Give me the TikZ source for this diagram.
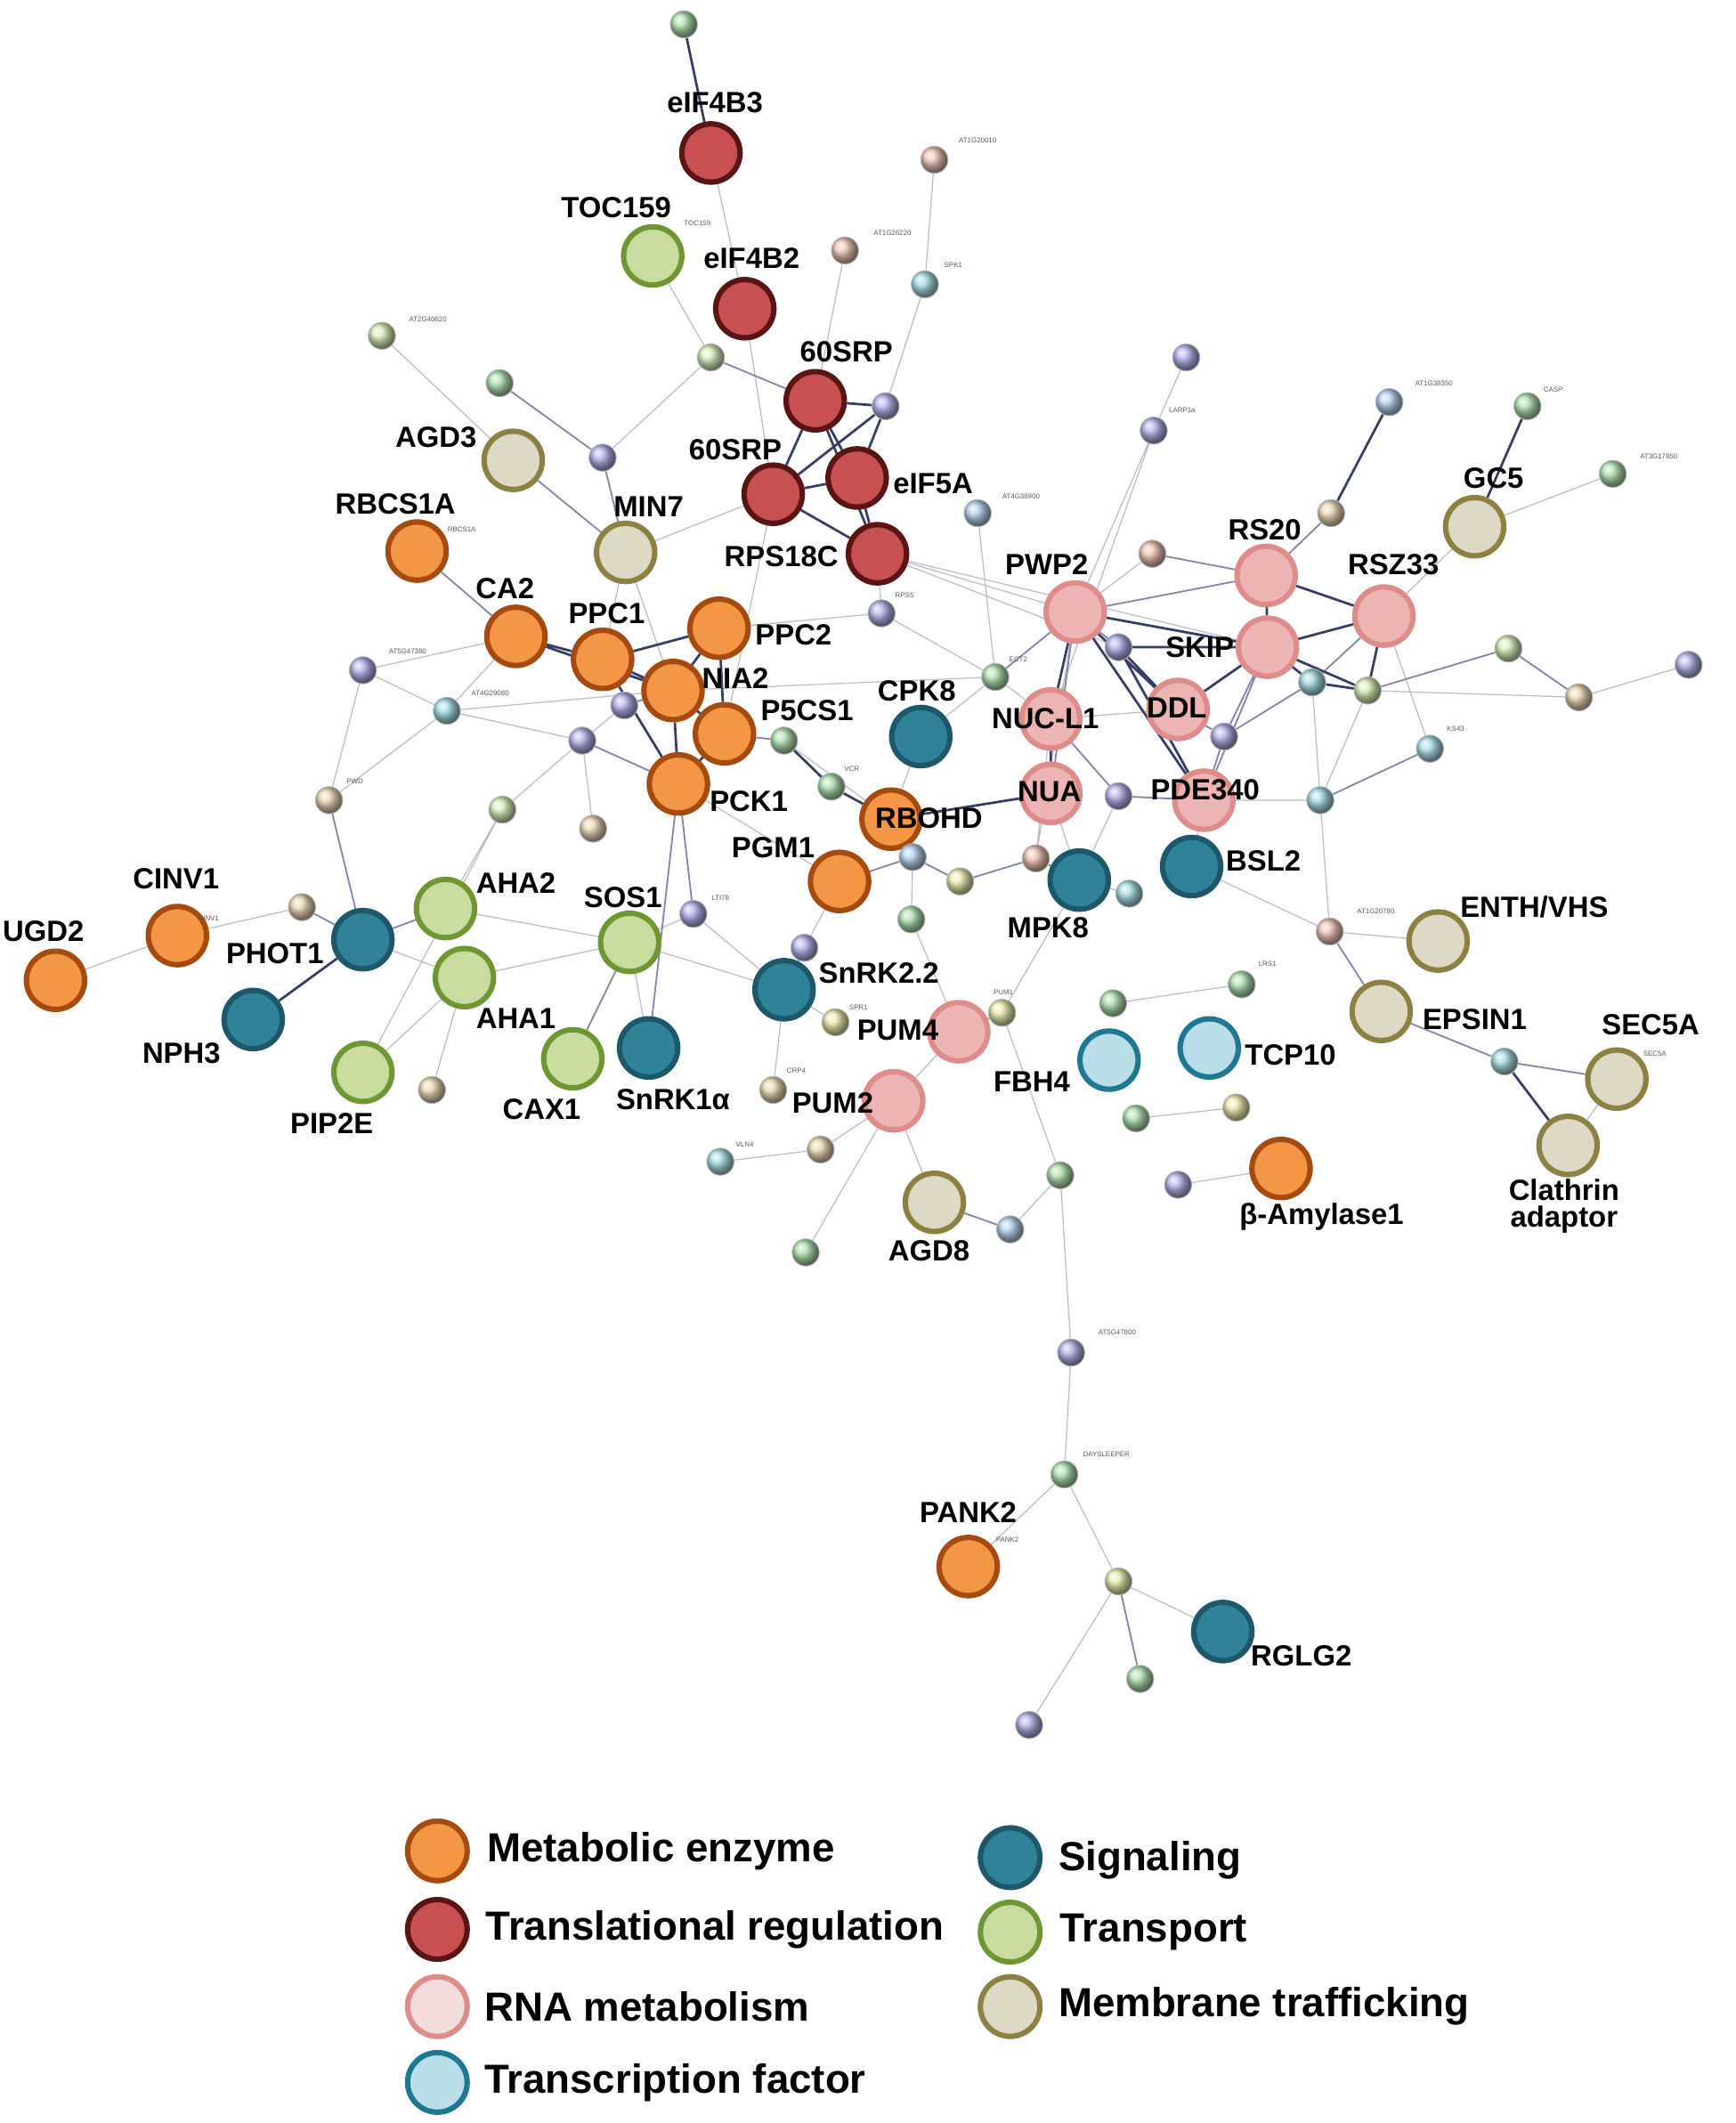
\documentclass[tikz,border=0pt]{standalone}
\usepackage{fontspec}
\setmainfont{Liberation Sans}
\usepackage{tikz}
\usetikzlibrary{backgrounds}

\definecolor{metF}{RGB}{245,150,70}   \definecolor{metD}{RGB}{165,75,15}
\definecolor{trF}{RGB}{200,80,80}     \definecolor{trD}{RGB}{90,20,20}
\definecolor{rnF}{RGB}{236,180,178}   \definecolor{rnD}{RGB}{222,140,138}
\definecolor{rnL}{RGB}{242,220,220}
\definecolor{tfF}{RGB}{185,222,232}   \definecolor{tfD}{RGB}{30,120,145}
\definecolor{sgF}{RGB}{48,130,152}    \definecolor{sgD}{RGB}{28,88,105}
\definecolor{tpF}{RGB}{200,220,160}   \definecolor{tpD}{RGB}{110,150,50}
\definecolor{mbF}{RGB}{222,217,196}   \definecolor{mbD}{RGB}{140,128,66}
\definecolor{edgeL}{RGB}{185,188,200} \definecolor{edgeM}{RGB}{130,135,165}
\definecolor{edgeD}{RGB}{55,62,100}
\definecolor{bGrn}{RGB}{175,225,175}  \definecolor{bLgr}{RGB}{215,238,185}
\definecolor{bPrp}{RGB}{178,178,235}  \definecolor{bSal}{RGB}{238,195,180}
\definecolor{bTea}{RGB}{165,222,230}  \definecolor{bTan}{RGB}{235,215,180}
\definecolor{bYlw}{RGB}{235,235,175}  \definecolor{bLbl}{RGB}{180,210,238}

\tikzset{every picture/.style={line width=0.75pt},
  big/.style={circle, minimum size=21.5pt, inner sep=0pt, line width=2pt},
  metab/.style={big, fill=metF, draw=metD},
  transl/.style={big, fill=trF, draw=trD},
  rnam/.style={big, fill=rnF, draw=rnD},
  tfac/.style={big, fill=tfF, draw=tfD},
  signal/.style={big, fill=sgF, draw=sgD},
  transp/.style={big, fill=tpF, draw=tpD},
  membr/.style={big, fill=mbF, draw=mbD},
  sm/.style={circle, minimum size=10pt, inner sep=0pt, draw=black!30, line width=0.3pt, shading=ball, ball color=#1},
  lite/.style={draw=edgeL, line width=0.4pt},
  md/.style={draw=edgeM, line width=0.6pt},
  dk/.style={draw=edgeD, line width=0.9pt},
  gname/.style={font=\fontsize{10.8}{12}\selectfont\bfseries, inner sep=0pt},
  tag/.style={font=\fontsize{2.6}{3}\selectfont, text=black!65, inner sep=0pt},
  legtext/.style={font=\fontsize{15}{17}\selectfont\bfseries, anchor=west, inner sep=0pt}
}

\begin{document}
\begin{tikzpicture}[x=0.5pt,y=0.5pt,yscale=-1]
\useasboundingbox (0,0) rectangle (1282,1568);

%Shape: Circle -- translational regulation
\node[transl] (eifb3) at (525,113) {};
\node[transl] (eifb2) at (550,228) {};
\node[transl] (srpA) at (602,296) {};
\node[transl] (srpB) at (571,365) {};
\node[transl] (eif5a) at (633,353) {};
\node[transl] (rps18c) at (648,409) {};
%Shape: Circle -- metabolic enzyme
\node[metab] (rbcs) at (308,407) {};
\node[metab] (ca2) at (381,470) {};
\node[metab] (ppc1) at (445,487) {};
\node[metab] (ppc2) at (531,464) {};
\node[metab] (nia2) at (497,510) {};
\node[metab] (p5cs) at (535,542) {};
\node[metab] (pck1) at (501,579) {};
\node[metab] (rbohd) at (658,605) {};
\node[metab] (pgm1) at (620,651) {};
\node[metab] (cinv) at (131,691) {};
\node[metab] (ugd2) at (41,724) {};
\node[metab] (bamy) at (946,863) {};
\node[metab] (pank2) at (715,1157) {};
%Shape: Circle -- signaling
\node[signal] (cpk8) at (680,544) {};
\node[signal] (phot1) at (268,694) {};
\node[signal] (nph3) at (187,753) {};
\node[signal] (snrk1) at (479,774) {};
\node[signal] (snrk2) at (579,731) {};
\node[signal] (mpk8) at (797,650) {};
\node[signal] (bsl2) at (880,640) {};
\node[signal] (rglg2) at (903,1205) {};
%Shape: Circle -- transport
\node[transp] (toc) at (482,189) {};
\node[transp] (aha2) at (329,671) {};
\node[transp] (aha1) at (343,722) {};
\node[transp] (sos1) at (465,696) {};
\node[transp] (cax1) at (423,782) {};
\node[transp] (pip2e) at (268,792) {};
%Shape: Circle -- RNA metabolism
\node[rnam] (pwp2) at (794,452) {};
\node[rnam] (rs20) at (935,425) {};
\node[rnam] (rsz33) at (1022,455) {};
\node[rnam] (skip) at (936,478) {};
\node[rnam] (nucl) at (776,531) {};
\node[rnam] (ddl) at (870,524) {};
\node[rnam] (nua) at (776,586) {};
\node[rnam] (pde) at (889,591) {};
\node[rnam] (pum4) at (708,762) {};
\node[rnam] (pum2) at (660,813) {};
%Shape: Circle -- transcription factor
\node[tfac] (fbh4) at (819,783) {};
\node[tfac] (tcp10) at (893,774) {};
%Shape: Circle -- membrane trafficking
\node[membr] (agd3) at (379,340) {};
\node[membr] (min7) at (462,408) {};
\node[membr] (gc5) at (1089,389) {};
\node[membr] (enth) at (1062,695) {};
\node[membr] (epsin) at (1020,747) {};
\node[membr] (sec5a) at (1194,797) {};
\node[membr] (clath) at (1158,846) {};
\node[membr] (agd8) at (690,888) {};

%Shape: Ball -- other partners
\node[sm=bGrn] (s1) at (505,18) {};
\node[sm=bSal] (s2) at (690,118) {};
\node[sm=bSal] (s3) at (624,185) {};
\node[sm=bTea] (s4) at (683,210) {};
\node[sm=bLgr] (s5) at (282,248) {};
\node[sm=bGrn] (s6) at (369,283) {};
\node[sm=bLgr] (s7) at (525,264) {};
\node[sm=bPrp] (s8) at (445,338) {};
\node[sm=bPrp] (s9) at (654,300) {};
\node[sm=bLbl] (s10) at (722,379) {};
\node[sm=bPrp] (s11) at (876,264) {};
\node[sm=bPrp] (s12) at (852,318) {};
\node[sm=bSal] (s13) at (851,409) {};
\node[sm=bLbl] (s14) at (1026,297) {};
\node[sm=bGrn] (s15) at (1128,300) {};
\node[sm=bGrn] (s16) at (1191,350) {};
\node[sm=bTan] (s17) at (983,379) {};
\node[sm=bPrp] (s18) at (651,453) {};
\node[sm=bPrp] (s19) at (268,495) {};
\node[sm=bTea] (s20) at (330,525) {};
\node[sm=bTan] (s21) at (243,591) {};
\node[sm=bTan] (s22) at (223,670) {};
\node[sm=bTan] (s23) at (319,805) {};
\node[sm=bLgr] (s24) at (371,598) {};
\node[sm=bPrp] (s25) at (430,547) {};
\node[sm=bTan] (s26) at (438,612) {};
\node[sm=bPrp] (s27) at (461,521) {};
\node[sm=bGrn] (s28) at (579,547) {};
\node[sm=bGrn] (s29) at (614,581) {};
\node[sm=bGrn] (s30) at (735,500) {};
\node[sm=bLbl] (s31) at (674,633) {};
\node[sm=bYlw] (s32) at (709,651) {};
\node[sm=bGrn] (s33) at (673,679) {};
\node[sm=bPrp] (s34) at (512,675) {};
\node[sm=bPrp] (s35) at (594,700) {};
\node[sm=bYlw] (s36) at (617,755) {};
\node[sm=bTan] (s37) at (571,805) {};
\node[sm=bYlw] (s38) at (740,748) {};
\node[sm=bGrn] (s39) at (822,741) {};
\node[sm=bSal] (s40) at (765,634) {};
\node[sm=bTea] (s41) at (834,660) {};
\node[sm=bPrp] (s42) at (826,588) {};
\node[sm=bPrp] (s43) at (826,478) {};
\node[sm=bGrn] (s44) at (839,826) {};
\node[sm=bTea] (s45) at (532,858) {};
\node[sm=bTan] (s46) at (606,849) {};
\node[sm=bGrn] (s47) at (595,925) {};
\node[sm=bTea] (s48) at (969,504) {};
\node[sm=bLgr] (s49) at (1010,510) {};
\node[sm=bPrp] (s50) at (904,544) {};
\node[sm=bTea] (s51) at (1056,553) {};
\node[sm=bTea] (s52) at (975,591) {};
\node[sm=bLgr] (s53) at (1114,479) {};
\node[sm=bTan] (s54) at (1166,515) {};
\node[sm=bPrp] (s55) at (1247,491) {};
\node[sm=bSal] (s56) at (982,688) {};
\node[sm=bGrn] (s57) at (917,727) {};
\node[sm=bTea] (s58) at (1111,784) {};
\node[sm=bYlw] (s59) at (913,818) {};
\node[sm=bGrn] (s60) at (783,868) {};
\node[sm=bLbl] (s61) at (746,908) {};
\node[sm=bPrp] (s62) at (870,875) {};
\node[sm=bPrp] (s63) at (791,999) {};
\node[sm=bGrn] (s64) at (786,1089) {};
\node[sm=bYlw] (s65) at (826,1168) {};
\node[sm=bGrn] (s66) at (842,1240) {};
\node[sm=bPrp] (s67) at (760,1274) {};

%Straight Lines -- interactions
\begin{scope}[on background layer]
\draw[lite] (eifb3) -- (eifb2) (toc) -- (s7) (s7) -- (s8) (eifb2) -- (srpB) (s3) -- (srpA)
  (s2) -- (s4) (s4) -- (s9) (srpB) -- (min7) (srpB) -- (p5cs) (rps18c) -- (pwp2)
  (rps18c) -- (skip) (rps18c) -- (s43) (rps18c) -- (s18) (s10) -- (s30) (s5) -- (agd3)
  (min7) -- (ppc1) (min7) -- (nia2) (ca2) -- (s19) (ca2) -- (s20) (s19) -- (s20)
  (s19) -- (s21) (s20) -- (s21) (s20) -- (nia2) (s22) -- (cinv) (cinv) -- (ugd2)
  (phot1) -- (aha1) (s24) -- (aha2) (s24) -- (pip2e) (aha1) -- (pip2e) (aha1) -- (s23)
  (aha2) -- (sos1) (aha1) -- (sos1) (sos1) -- (snrk1) (sos1) -- (s34) (sos1) -- (snrk2)
  (s34) -- (snrk2) (s25) -- (s26) (s25) -- (s27) (s24) -- (s25) (s28) -- (rbohd)
  (pck1) -- (pgm1) (cpk8) -- (rbohd) (pgm1) -- (s35) (s31) -- (s33) (s33) -- (pum4)
  (snrk2) -- (s36) (snrk2) -- (s37) (pum4) -- (pum2) (pum2) -- (agd8) (pum2) -- (s47)
  (pum2) -- (s46) (s45) -- (s46) (s38) -- (mpk8) (s38) -- (s60) (s60) -- (s61)
  (s60) -- (s63) (s63) -- (s64) (s64) -- (pank2) (s64) -- (s65) (s65) -- (rglg2)
  (s65) -- (s67) (s39) -- (s57) (s59) -- (s44) (s62) -- (bamy) (mpk8) -- (s41)
  (mpk8) -- (nua) (s40) -- (pwp2) (s40) -- (nucl) (bsl2) -- (pde) (bsl2) -- (s56)
  (s56) -- (s52) (s56) -- (enth) (sec5a) -- (clath) (s52) -- (pde) (s52) -- (s49)
  (s52) -- (s48) (rsz33) -- (s51) (s54) -- (s55) (s49) -- (s54) (gc5) -- (s16)
  (gc5) -- (rsz33) (s12) -- (s11) (s12) -- (pwp2) (s12) -- (nucl) (s13) -- (pwp2)
  (nucl) -- (ddl) (s42) -- (mpk8) (s30) -- (s18) (s30) -- (cpk8) (s30) -- (nucl)
  (nia2) -- (s30) (s20) -- (s25) (ppc2) -- (s18);
\draw[md] (s7) -- (srpA) (s6) -- (s8) (agd3) -- (min7) (s8) -- (min7) (rbcs) -- (ca2)
  (s21) -- (phot1) (s22) -- (phot1) (phot1) -- (aha2) (sos1) -- (cax1) (s34) -- (pck1)
  (pck1) -- (snrk1) (s27) -- (nia2) (s25) -- (pck1) (p5cs) -- (s28) (rbohd) -- (s31)
  (s31) -- (pgm1) (s35) -- (snrk2) (s31) -- (s32) (s32) -- (s40) (pum4) -- (s38)
  (agd8) -- (s61) (s65) -- (s66) (mpk8) -- (s40) (s56) -- (epsin) (epsin) -- (s58)
  (s58) -- (sec5a) (s52) -- (s51) (pwp2) -- (rs20) (pwp2) -- (nua) (pwp2) -- (s43)
  (rsz33) -- (s48) (s49) -- (s53) (s53) -- (s54) (s17) -- (rs20) (s13) -- (rs20)
  (skip) -- (s50) (skip) -- (pde) (ddl) -- (s50) (s50) -- (pde) (s48) -- (s50)
  (nucl) -- (s42) (s42) -- (pde) (pwp2) -- (s30);
\draw[dk] (s1) -- (eifb3) (srpA) -- (srpB) (srpA) -- (eif5a) (srpA) -- (s9)
  (srpA) -- (rps18c) (s9) -- (eif5a) (s9) -- (srpB) (srpB) -- (eif5a) (srpB) -- (rps18c)
  (eif5a) -- (rps18c) (ca2) -- (ppc1) (ca2) -- (nia2) (ppc1) -- (nia2) (ppc1) -- (ppc2)
  (nia2) -- (ppc2) (nia2) -- (p5cs) (p5cs) -- (pck1) (nia2) -- (pck1) (ppc1) -- (pck1)
  (ppc2) -- (p5cs) (phot1) -- (nph3) (s28) -- (s29) (s29) -- (rbohd) (rbohd) -- (nua)
  (s58) -- (clath) (rs20) -- (rsz33) (skip) -- (rsz33) (rs20) -- (skip) (pwp2) -- (skip)
  (pwp2) -- (nucl) (pwp2) -- (ddl) (pwp2) -- (pde) (s43) -- (skip) (s43) -- (pde)
  (s43) -- (ddl) (rsz33) -- (s49) (s14) -- (s17) (s15) -- (gc5) (skip) -- (ddl)
  (skip) -- (s48) (skip) -- (s49) (nucl) -- (nua) (s48) -- (s49);
\end{scope}

% Text Node -- gene names
\node[gname] (teifb3) at (528,76) {eIF4B3};
\node[gname] (teifb2) at (555,191) {eIF4B2};
\node[gname] (ttoc) at (455,153) {TOC159};
\node[gname] (tsrpA) at (625,260) {60SRP};
\node[gname] (tsrpB) at (543,332) {60SRP};
\node[gname] (teif5a) at (689,357) {eIF5A};
\node[gname] (trps18c) at (577,411) {RPS18C};
\node[gname] (tagd3) at (322,323) {AGD3};
\node[gname] (tmin7) at (479,374) {MIN7};
\node[gname] (trbcs) at (292,372) {RBCS1A};
\node[gname] (tca2) at (373,435) {CA2};
\node[gname] (tppc1) at (448,453) {PPC1};
\node[gname] (tppc2) at (586,469) {PPC2};
\node[gname] (tnia2) at (543,501) {NIA2};
\node[gname] (tp5cs) at (596,525) {P5CS1};
\node[gname] (tpck1) at (553,592) {PCK1};
\node[gname] (tcpk8) at (677,510) {CPK8};
\node[gname] (trbohd) at (686,604) {RBOHD};
\node[gname] (tpgm1) at (571,626) {PGM1};
\node[gname] (tcinv) at (130,649) {CINV1};
\node[gname] (tugd2) at (32,688) {UGD2};
\node[gname] (tphot1) at (203,704) {PHOT1};
\node[gname] (tnph3) at (134,778) {NPH3};
\node[gname] (taha2) at (381,652) {AHA2};
\node[gname] (taha1) at (381,752) {AHA1};
\node[gname] (tsos1) at (460,663) {SOS1};
\node[gname] (tcax1) at (400,819) {CAX1};
\node[gname] (tpip2e) at (245,830) {PIP2E};
\node[gname] (tsnrk1) at (497,812) {SnRK1α};
\node[gname] (tsnrk2) at (649,719) {SnRK2.2};
\node[gname] (tpum4) at (663,761) {PUM4};
\node[gname] (tpum2) at (615,815) {PUM2};
\node[gname] (tfbh4) at (762,799) {FBH4};
\node[gname] (ttcp10) at (953,779) {TCP10};
\node[gname] (tmpk8) at (774,685) {MPK8};
\node[gname] (tbsl2) at (933,636) {BSL2};
\node[gname] (tpwp2) at (773,417) {PWP2};
\node[gname] (trs20) at (934,391) {RS20};
\node[gname] (trsz33) at (1029,417) {RSZ33};
\node[gname] (tskip) at (886,478) {SKIP};
\node[gname] (tnucl) at (772,531) {NUC-L1};
\node[gname] (tddl) at (869,523) {DDL};
\node[gname] (tnua) at (775,585) {NUA};
\node[gname] (tpde) at (890,583) {PDE340};
\node[gname] (tgc5) at (1103,353) {GC5};
\node[gname] (tenth) at (1133,670) {ENTH/VHS};
\node[gname] (tepsin) at (1089,753) {EPSIN1};
\node[gname] (tsec5a) at (1219,757) {SEC5A};
\node[gname, align=center] (tclath) at (1155,891) {Clathrin\\[-2pt]adaptor};
\node[gname] (tagd8) at (686,924) {AGD8};
\node[gname] (tbamy) at (976,899) {β-Amylase1};
\node[gname] (tpank2) at (715,1117) {PANK2};
\node[gname] (trglg2) at (961,1223) {RGLG2};

% Text Node -- small tags
\node[tag] (g1) at (316,236) {AT2G40620};
\node[tag] (g2) at (515,165) {TOC159};
\node[tag] (g3) at (722,104) {AT1G20010};
\node[tag] (g4) at (659,172) {AT1G26220};
\node[tag] (g5) at (704,196) {SPK1};
\node[tag] (g6) at (754,367) {AT4G38900};
\node[tag] (g7) at (873,303) {LARP1a};
\node[tag] (g8) at (1059,283) {AT1G38350};
\node[tag] (g9) at (1147,288) {CASP};
\node[tag] (g10) at (1225,337) {AT3G17850};
\node[tag] (g11) at (752,487) {ECT2};
\node[tag] (g12) at (629,568) {VCR};
\node[tag] (g13) at (262,577) {PWD};
\node[tag] (g14) at (301,481) {AT5G47380};
\node[tag] (g15) at (362,512) {AT4G29080};
\node[tag] (g16) at (532,663) {LTI78};
\node[tag] (g17) at (634,744) {SPR1};
\node[tag] (g18) at (588,791) {CRP4};
\node[tag] (g19) at (741,733) {PUM1};
\node[tag] (g20) at (936,712) {LRS1};
\node[tag] (g21) at (1075,538) {KS43};
\node[tag] (g22) at (550,845) {VLN4};
\node[tag] (g23) at (825,984) {AT5G47800};
\node[tag] (g24) at (1016,673) {AT1G20780};
\node[tag] (g25) at (668,440) {RPS5};
\node[tag] (g26) at (341,391) {RBCS1A};
\node[tag] (g27) at (154,678) {CINV1};
\node[tag] (g28) at (744,1137) {PANK2};
\node[tag] (g29) at (1222,778) {SEC5A};
\node[tag] (g30) at (817,1074) {DAYSLEEPER};

% Legend
\node[metab, minimum size=22pt] (lmet) at (323,1367) {};
\node[transl, minimum size=22pt] (ltr) at (323,1425) {};
\node[rnam, fill=rnL, minimum size=22pt] (lrn) at (323,1482) {};
\node[tfac, minimum size=22pt] (ltf) at (323,1538) {};
\node[signal, minimum size=22pt] (lsg) at (746,1372) {};
\node[transp, minimum size=22pt] (ltp) at (746,1427) {};
\node[membr, minimum size=22pt] (lmb) at (746,1482) {};
\node[legtext] (tlmet) at (359,1367) {Metabolic enzyme};
\node[legtext] (tltr) at (358,1425) {Translational regulation};
\node[legtext] (tlrn) at (357,1482) {RNA metabolism};
\node[legtext] (tltf) at (357,1538) {Transcription factor};
\node[legtext] (tlsg) at (781,1374) {Signaling};
\node[legtext] (tltp) at (782,1427) {Transport};
\node[legtext] (tlmb) at (781,1482) {Membrane trafficking};

\end{tikzpicture}
\end{document}
